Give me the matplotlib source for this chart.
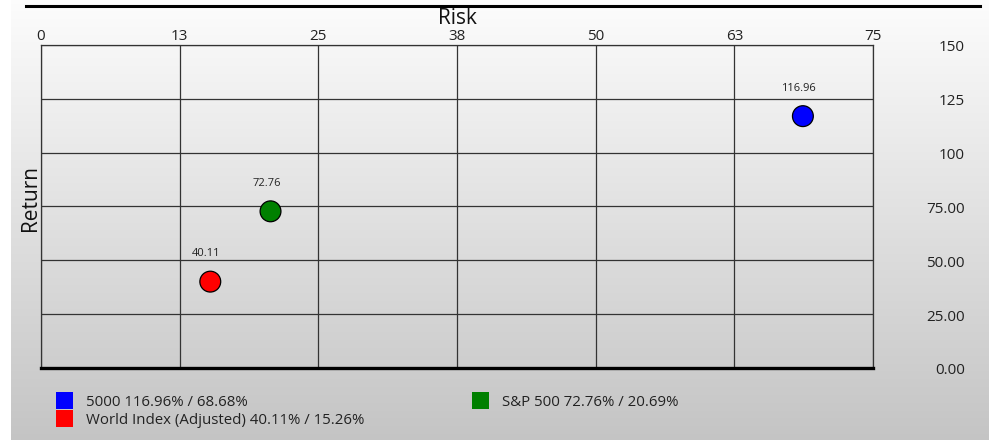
import numpy as np
import matplotlib
matplotlib.use("Agg")
import matplotlib.pyplot as plt
import matplotlib.transforms as mtransforms
from matplotlib.lines import Line2D
from matplotlib.patches import Rectangle

plt.rcParams['font.family'] = ['Open Sans', 'DejaVu Sans']

# data
names = ["5000", "S&P 500", "World Index (Adjusted)"]
risk = [68.68, 20.69, 15.26]
returns = [116.96, 72.76, 40.11]
colors = ["#0000ff", "#008000", "#ff0000"]

x_ticks = [0, 12.5, 25, 37.5, 50, 62.5, 75]
x_labels = ["0", "13", "25", "38", "50", "63", "75"]
y_ticks = [0, 25, 50, 75, 100, 125, 150]
y_labels = ["0.00", "25.00", "50.00", "75.00", "100", "125", "150"]

W, H = 989, 440
fig = plt.figure(figsize=(W / 100, H / 100), dpi=100)
fig.patch.set_facecolor("white")

# gray gradient background panel
bg = fig.add_axes([11 / W, 0, 1 - 11 / W, 1])
grad = np.linspace(0.99, 0.77, 256).reshape(-1, 1)
bg.imshow(np.dstack([grad, grad, grad]), aspect="auto", extent=[0, 1, 0, 1])
bg.axis("off")
bg.set_zorder(0)

# top rule line
fig.add_artist(Line2D([26 / W, 980 / W], [1 - 6.5 / H, 1 - 6.5 / H], color="black", lw=2.2))

ax = fig.add_axes([41 / W, 1 - 368 / H, (873 - 41) / W, (368 - 45) / H])
ax.set_zorder(1)
ax.patch.set_alpha(0)
ax.set_xlim(0, 75)
ax.set_ylim(0, 150)

ax.set_xticks(x_ticks)
ax.set_xticklabels(x_labels, fontsize=11, color="#222222")
ax.xaxis.tick_top()
ax.tick_params(axis="x", length=0, pad=1)
ax.set_yticks(y_ticks)
ax.set_yticklabels(y_labels, fontsize=11, color="#222222")
ax.yaxis.tick_right()
ax.tick_params(axis="y", length=0, pad=66)
shift = mtransforms.ScaledTranslation(0, -3 / 100, fig.dpi_scale_trans)
for lbl in ax.get_yticklabels():
    lbl.set_horizontalalignment("right")
    lbl.set_verticalalignment("center")
    lbl.set_transform(lbl.get_transform() + shift)

ax.grid(True, color="#333333", lw=0.9)
ax.set_axisbelow(True)
for side in ["left", "right", "top"]:
    ax.spines[side].set_color("#333333")
    ax.spines[side].set_linewidth(0.9)
ax.spines["bottom"].set_color("black")
ax.spines["bottom"].set_linewidth(2.4)

ax.scatter(risk, returns, s=225, c=colors, edgecolors="black", linewidths=0.9, zorder=3)
for xv, yv in zip(risk, returns):
    ax.annotate(f"{yv:.2f}", (xv, yv), xytext=(-3, 20), textcoords="offset points",
                ha="center", va="center", fontsize=8, color="#222222")

fig.text(457 / W, 1 - 18 / H, "Risk", ha="center", va="center", fontsize=15, color="#111111")
fig.text(30 / W, 1 - 198 / H, "Return", ha="center", va="center", rotation=90, fontsize=15, color="#111111")

# legend, drawn by hand in two columns
legend_pos = [(56, 392), (472, 392), (56, 410)]
for (px, py), name, r, rk, c in zip(legend_pos, names, returns, risk, colors):
    fig.add_artist(Rectangle((px / W, 1 - (py + 17) / H), 17 / W, 17 / H, transform=fig.transFigure,
                             facecolor=c, edgecolor="none"))
    fig.text((px + 30) / W, 1 - (py + 10) / H, f"{name} {r:.2f}% / {rk:.2f}%",
             ha="left", va="center", fontsize=10.8, color="#222222")

fig.savefig("out.png", dpi=100)
